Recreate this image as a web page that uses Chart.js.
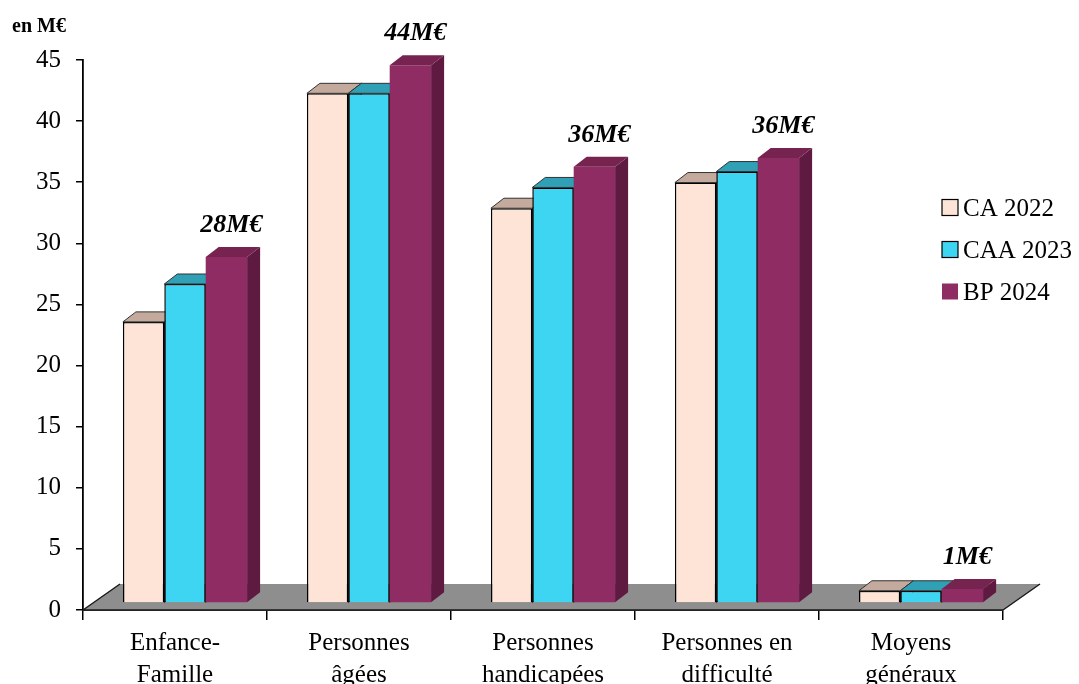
<!DOCTYPE html>
<html><head><meta charset="utf-8">
<script src="https://cdn.jsdelivr.net/npm/chart.js@4.4.1/dist/chart.umd.min.js"></script>
<style>html,body{margin:0;padding:0;background:#fff;overflow:hidden}#wrap{width:1079px;height:684px;position:relative}</style>
</head><body><div id="wrap"><canvas id="c" width="1079" height="684"></canvas></div>
<script>
// ---- data ----
const categories = [['Enfance-','Famille'],['Personnes','âgées'],['Personnes','handicapées'],['Personnes en','difficulté'],['Moyens','généraux']];
const seriesNames = ['CA 2022','CAA 2023','BP 2024'];
const ca2022 = [23.0, 41.7, 32.3, 34.4, 1.0];
const caa2023 = [26.1, 41.7, 34.0, 35.3, 1.0];
const bp2024 = [28.3, 44.0, 35.7, 36.4, 1.15];
const totalLabels = ['28M€','44M€','36M€','36M€','1M€'];
const yMin = 0, yMax = 45, yStep = 5;
const unitLabel = 'en M€';

// ---- style ----
const FONT = "'Liberation Serif', 'Times New Roman', serif";
const SHIFT = {x: 10, y: -7};
const DEPTH = {x: 13, y: -10};
const FLOOR = {x: 37, y: -26};
const styles = [
  {front:'#fde4d6', top:'#c4aa9c', side:'#b89c8e', border:'#000', bw:1.5},
  {front:'#3ed5f2', top:'#2fa0b5', side:'#268a9c', border:'#000', bw:1.5},
  {front:'#8f2c64', top:'#76234f', side:'#5e1a40', border:'#8f2c64', bw:0}
];
const seriesValues = [ca2022, caa2023, bp2024];

function drawFloor(chart){
  const {ctx, chartArea:a} = chart;
  ctx.save();
  ctx.fillStyle = '#8e8e8e';
  ctx.beginPath();
  ctx.moveTo(a.left, a.bottom); ctx.lineTo(a.right, a.bottom);
  ctx.lineTo(a.right+FLOOR.x, a.bottom+FLOOR.y); ctx.lineTo(a.left+FLOOR.x, a.bottom+FLOOR.y);
  ctx.closePath(); ctx.fill();
  ctx.strokeStyle = '#1a1a1a'; ctx.lineWidth = 1.5;
  ctx.beginPath();
  ctx.moveTo(a.left, a.bottom); ctx.lineTo(a.left+FLOOR.x, a.bottom+FLOOR.y);
  ctx.moveTo(a.right, a.bottom); ctx.lineTo(a.right+FLOOR.x, a.bottom+FLOOR.y);
  ctx.moveTo(a.left, a.bottom); ctx.lineTo(a.right, a.bottom);
  ctx.stroke();
  ctx.restore();
}

function draw3dFaces(ctx, meta, st){
  meta.data.forEach(bar => {
    const {x, y, base, width} = bar.getProps(['x','y','base','width'], true);
    const l = x - width/2, r = x + width/2;
    ctx.beginPath();
    ctx.moveTo(r, y); ctx.lineTo(r+DEPTH.x, y+DEPTH.y); ctx.lineTo(r+DEPTH.x, base+DEPTH.y); ctx.lineTo(r, base);
    ctx.closePath(); ctx.fillStyle = st.side; ctx.fill();
    if (st.bw) { ctx.strokeStyle = st.border; ctx.lineWidth = 1; ctx.stroke(); }
    ctx.beginPath();
    ctx.moveTo(l, y); ctx.lineTo(r, y); ctx.lineTo(r+DEPTH.x, y+DEPTH.y); ctx.lineTo(l+DEPTH.x, y+DEPTH.y);
    ctx.closePath(); ctx.fillStyle = st.top; ctx.fill();
    if (st.bw) { ctx.strokeStyle = '#333'; ctx.lineWidth = 1; ctx.stroke(); }
  });
}

const plugin3d = {
  id: 'threeD',
  beforeDatasetsDraw(chart){
    drawFloor(chart);
    const ctx = chart.ctx;
    const metas = chart.getSortedVisibleDatasetMetas();
    metas.forEach(meta => {
      ctx.save();
      ctx.translate(SHIFT.x, SHIFT.y);
      meta.controller.draw();
      draw3dFaces(ctx, meta, styles[meta.index]);
      ctx.restore();
    });
    return false;
  },
  afterDraw(chart){
    const ctx = chart.ctx;
    ctx.save();
    ctx.fillStyle = '#000';
    ctx.font = 'bold 20px ' + FONT;
    ctx.textAlign = 'left'; ctx.textBaseline = 'alphabetic';
    ctx.fillText(unitLabel, 12, 32);
    const meta = chart.getDatasetMeta(2);
    ctx.font = 'italic bold 26px ' + FONT;
    ctx.textAlign = 'center';
    meta.data.forEach((bar, i) => {
      ctx.fillText(totalLabels[i], bar.x + SHIFT.x + 5, bar.y + SHIFT.y - 25);
    });
    ctx.font = '25px ' + FONT;
    ctx.textAlign = 'left'; ctx.textBaseline = 'middle';
    chart.data.datasets.forEach((ds, i) => {
      const cy = 208 + i*42;
      const st = styles[i];
      ctx.fillStyle = st.front;
      ctx.fillRect(942, cy-8.5, 16, 16);
      if (st.bw) { ctx.strokeStyle = '#000'; ctx.lineWidth = 1.2; ctx.strokeRect(942, cy-8.5, 16, 16); }
      ctx.fillStyle = '#000';
      ctx.fillText(ds.label, 963, cy + 1);
    });
    ctx.restore();
  }
};

Chart.defaults.font.family = FONT;
Chart.defaults.color = '#000';

new Chart(document.getElementById('c'), {
  type: 'bar',
  data: {
    labels: categories,
    datasets: seriesNames.map((name, i) => ({
      label: name,
      data: seriesValues[i],
      backgroundColor: styles[i].front,
      borderColor: styles[i].border,
      borderWidth: styles[i].bw,
      categoryPercentage: 0.675,
      barPercentage: 1.0
    }))
  },
  options: {
    responsive: false,
    animation: false,
    layout: {padding: {top: 60, right: 76, left: 0, bottom: 0}},
    plugins: {legend: {display: false}, tooltip: {enabled: false}},
    scales: {
      x: {
        grid: {display: true, drawOnChartArea: false, offset: true, tickLength: 10, color: '#000', lineWidth: 1.5},
        border: {display: true, color: '#000', width: 1.8},
        ticks: {font: {size: 25, lineHeight: 1.26}, padding: 8, color: '#000', maxRotation: 0, autoSkip: false},
        afterFit(s){ s.height = 74; }
      },
      y: {
        min: yMin, max: yMax,
        grid: {display: true, drawOnChartArea: false, tickLength: 7, color: '#000', lineWidth: 1.5},
        border: {display: true, color: '#000', width: 1.8},
        ticks: {stepSize: yStep, font: {size: 25}, padding: 15, color: '#000'},
        afterFit(s){ s.width = 83; }
      }
    }
  },
  plugins: [plugin3d]
});
</script>
</body></html>
